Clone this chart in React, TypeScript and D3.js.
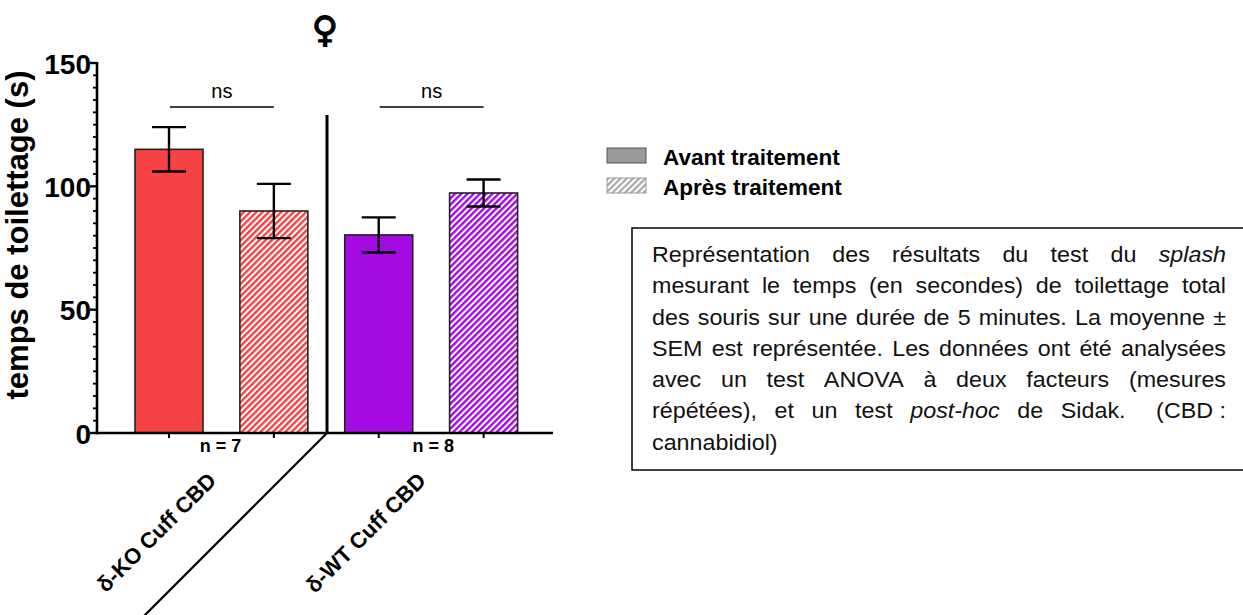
import React, { useEffect, useRef } from "react";
import * as d3 from "d3";

// ---- data ----
const groups = ["δ-KO Cuff CBD", "δ-WT Cuff CBD"];
const nLabels = ["n = 7", "n = 8"];
const treatments = ["Avant traitement", "Après traitement"];
const meansAvant = [115, 80.3];
const meansApres = [90, 97.3];
const semAvant = [9, 7.1];
const semApres = [11, 5.5];
const groupColors = ["#f54343", "#a30be0"];
const yTicks = [0, 50, 100, 150];
const sigLabels = ["ns", "ns"];
const paragraphLines = [
  "Représentation des résultats du test du *splash*",
  "mesurant le temps (en secondes) de toilettage total",
  "des souris sur une durée de 5 minutes. La moyenne ±",
  "SEM est représentée. Les données ont été analysées",
  "avec un test ANOVA à deux facteurs (mesures",
  "répétées), et un test *post-hoc* de Sidak.\u00a0\u00a0 (CBD\u00a0:",
  "cannabidiol)",
];

const W = 1243;
const H = 615;
const FONT = "'Liberation Sans', Arial, Helvetica, sans-serif";

type Bar = { key: string; g: number; t: number; mean: number; sem: number };
const bars: Bar[] = [];
groups.forEach((_, g) => {
  bars.push({ key: `${g}-0`, g, t: 0, mean: meansAvant[g], sem: semAvant[g] });
  bars.push({ key: `${g}-1`, g, t: 1, mean: meansApres[g], sem: semApres[g] });
});

export default function App() {
  const paraRef = useRef<SVGGElement>(null);

  const y = d3.scaleLinear().domain([0, 150]).range([433, 63]);
  const x = d3
    .scalePoint<string>()
    .domain(bars.map((b) => b.key))
    .range([169, 483.6]);
  const barW = 68;
  const capW = 34;
  const axisX = 97;
  const dividerX = 327;
  const axisEndX = 553;
  const minorTicks = d3.range(0, 151, 5);

  const groupCenter = (g: number) =>
    ((x(`${g}-0`) as number) + (x(`${g}-1`) as number)) / 2;

  useEffect(() => {
    const root = d3.select(paraRef.current);
    root.selectAll("*").remove();
    const fs = 21.5;
    const sx = 1.084;
    const left = 652;
    const right = 1226;
    const width = (right - left) / sx;
    const y0 = 262;
    const pitch = 31.3;
    const g = root.append("g").attr("transform", `translate(${left},0) scale(${sx},1)`);
    const measure = (txt: string, italic: boolean) => {
      const t = g
        .append("text")
        .attr("font-family", FONT)
        .attr("font-size", fs)
        .attr("font-style", italic ? "italic" : "normal")
        .text(txt);
      const w = (t.node() as SVGTextElement).getComputedTextLength();
      t.remove();
      return w;
    };
    const spaceW = measure("a a", false) - measure("aa", false);
    paragraphLines.forEach((line, i) => {
      const words = line.split(" ").map((w) => {
        const italic = w.startsWith("*") && w.endsWith("*");
        return { text: italic ? w.slice(1, -1) : w, italic };
      });
      const widths = words.map((w) => measure(w.text, w.italic));
      const sum = d3.sum(widths);
      const isLast = i === paragraphLines.length - 1;
      const gap = isLast || words.length < 2 ? spaceW : (width - sum) / (words.length - 1);
      let cx = 0;
      words.forEach((w, j) => {
        g.append("text")
          .attr("x", cx)
          .attr("y", y0 + i * pitch)
          .attr("font-family", FONT)
          .attr("font-size", fs)
          .attr("font-style", w.italic ? "italic" : "normal")
          .attr("fill", "#111")
          .text(w.text);
        cx += widths[j] + gap;
      });
    });
  }, []);

  return (
    <svg width={W} height={H} style={{ position: "absolute", left: 0, top: 0, background: "#fff" }}>
      <defs>
        {groupColors.map((c, i) => (
          <pattern
            key={i}
            id={`hatch${i}`}
            width={4.4}
            height={10}
            patternUnits="userSpaceOnUse"
            patternTransform="rotate(45)"
          >
            <rect width={4.4} height={10} fill="#ffffff" />
            <rect width={2.4} height={10} fill={c} />
          </pattern>
        ))}
        <pattern id="hatchGray" width={4.4} height={10} patternUnits="userSpaceOnUse" patternTransform="rotate(45)">
          <rect width={4.4} height={10} fill="#ffffff" />
          <rect width={2.2} height={10} fill="#a8a8a8" />
        </pattern>
      </defs>

      {/* female symbol */}
      <text
        x={325}
        y={42}
        textAnchor="middle"
        fontFamily="'DejaVu Sans', sans-serif"
        fontWeight="bold"
        fontSize={36}
        fill="#000"
        stroke="#000"
        strokeWidth={1.2}
      >
        ♀
      </text>

      {/* Y axis title */}
      <text
        transform={`translate(28,235) rotate(-90)`}
        textAnchor="middle"
        fontFamily={FONT}
        fontWeight="bold"
        fontSize={31}
        fill="#000"
      >
        temps de toilettage (s)
      </text>

      {/* Y axis */}
      <line x1={axisX} x2={axisX} y1={y(150) - 1} y2={y(0) + 1.2} stroke="#000" strokeWidth={2.6} />
      {minorTicks.map((v) => (
        <line
          key={v}
          x1={axisX}
          x2={axisX - (v % 50 === 0 ? 7 : 4)}
          y1={y(v)}
          y2={y(v)}
          stroke="#000"
          strokeWidth={v % 50 === 0 ? 2.4 : 1.8}
        />
      ))}
      {yTicks.map((v) => (
        <text
          key={v}
          x={axisX - 6}
          y={y(v)}
          dy="0.38em"
          textAnchor="end"
          fontFamily={FONT}
          fontWeight="bold"
          fontSize={28}
          fill="#000"
        >
          {v}
        </text>
      ))}

      {/* bars */}
      {bars.map((b) => (
        <rect
          key={b.key}
          x={(x(b.key) as number) - barW / 2}
          y={y(b.mean)}
          width={barW}
          height={y(0) - y(b.mean)}
          fill={b.t === 0 ? groupColors[b.g] : `url(#hatch${b.g})`}
          stroke="#222"
          strokeWidth={1.6}
        />
      ))}

      {/* error bars */}
      {bars.map((b) => {
        const cx = x(b.key) as number;
        return (
          <g key={b.key} stroke="#000" strokeWidth={2.4}>
            <line x1={cx} x2={cx} y1={y(b.mean + b.sem)} y2={y(b.mean - b.sem)} />
            <line x1={cx - capW / 2} x2={cx + capW / 2} y1={y(b.mean + b.sem)} y2={y(b.mean + b.sem)} />
            <line x1={cx - capW / 2} x2={cx + capW / 2} y1={y(b.mean - b.sem)} y2={y(b.mean - b.sem)} />
          </g>
        );
      })}

      {/* X axis */}
      <line x1={axisX - 1.2} x2={axisEndX} y1={y(0)} y2={y(0)} stroke="#000" strokeWidth={2.6} />
      {bars.map((b) => (
        <line
          key={b.key}
          x1={x(b.key) as number}
          x2={x(b.key) as number}
          y1={y(0)}
          y2={y(0) + 5}
          stroke="#000"
          strokeWidth={2}
        />
      ))}

      {/* divider */}
      <line x1={dividerX} x2={dividerX} y1={115} y2={y(0)} stroke="#000" strokeWidth={3} />
      <line x1={dividerX} x2={dividerX - 184} y1={y(0)} y2={y(0) + 184} stroke="#000" strokeWidth={2.2} />

      {/* significance */}
      {groups.map((_, g) => {
        const x1 = (x(`${g}-0`) as number) + 1;
        const x2 = x(`${g}-1`) as number;
        return (
          <g key={g}>
            <line x1={x1} x2={x2} y1={107} y2={107} stroke="#000" strokeWidth={1.6} />
            <text x={(x1 + x2) / 2} y={98} textAnchor="middle" fontFamily={FONT} fontSize={20} fill="#000">
              {sigLabels[g]}
            </text>
          </g>
        );
      })}

      {/* n labels */}
      {groups.map((_, g) => (
        <text
          key={g}
          x={groupCenter(g) + (g === 0 ? -1 : 2)}
          y={452}
          textAnchor="middle"
          fontFamily={FONT}
          fontWeight="bold"
          fontSize={18}
          fill="#000"
        >
          {nLabels[g]}
        </text>
      ))}

      {/* group labels */}
      {groups.map((lab, g) => (
        <text
          key={lab}
          transform={`translate(${groupCenter(g) - 4},482) rotate(-45)`}
          textAnchor="end"
          fontFamily={FONT}
          fontWeight="bold"
          fontSize={22}
          fill="#000"
        >
          {lab}
        </text>
      ))}

      {/* legend */}
      {treatments.map((t, i) => (
        <g key={t} transform={`translate(607,${148 + i * 30})`}>
          <rect
            width={39}
            height={15}
            fill={i === 0 ? "#999999" : "url(#hatchGray)"}
            stroke={i === 0 ? "#555" : "#999"}
            strokeWidth={1}
          />
          <text x={56} y={17} fontFamily={FONT} fontWeight="bold" fontSize={22.5} fill="#000">
            {t}
          </text>
        </g>
      ))}

      {/* caption box */}
      <rect x={632} y={228} width={620} height={242} fill="none" stroke="#000" strokeWidth={1.5} />
      <g ref={paraRef} />
    </svg>
  );
}
